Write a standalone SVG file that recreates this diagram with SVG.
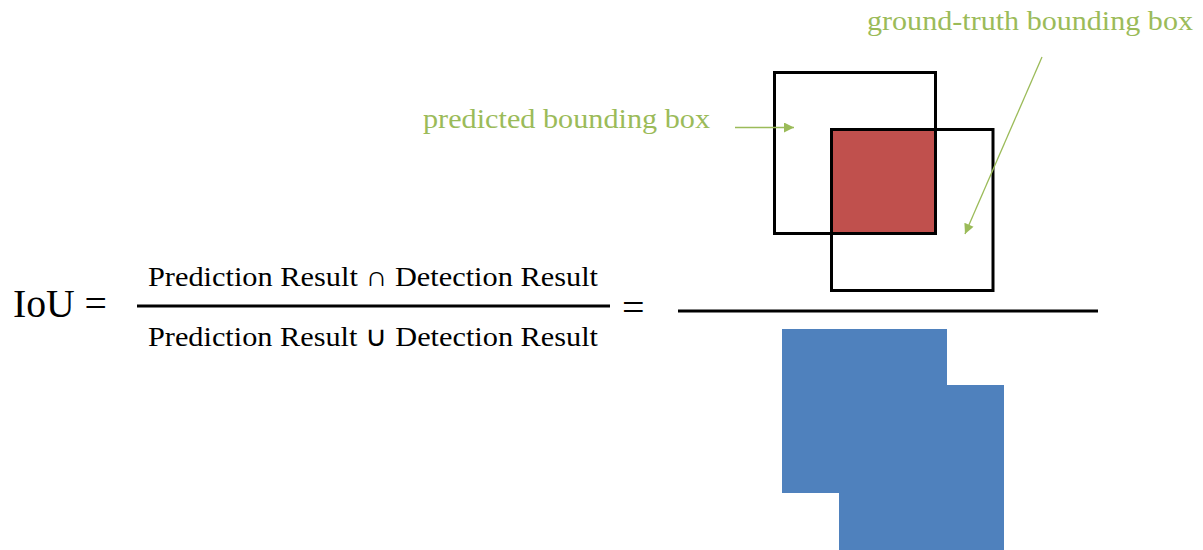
<svg xmlns="http://www.w3.org/2000/svg" width="1203" height="550" viewBox="0 0 1203 550">
<style>
.t{font-family:"Liberation Serif","Times New Roman",serif;fill:#000}
.g{font-family:"Liberation Serif","Times New Roman",serif;fill:#9BBB59}
.box{fill:none;stroke:#000;stroke-width:3}
.rule{stroke:#000;stroke-width:3}
.arr{stroke:#9BBB59;stroke-width:1.3;fill:none;marker-end:url(#ah)}
</style>
<defs>
<marker id="ah" viewBox="0 0 10 10" refX="10" refY="5" markerUnits="userSpaceOnUse" markerWidth="12" markerHeight="10" orient="auto">
<path d="M0,0 L10,5 L0,10 Z" fill="#9BBB59"/>
</marker>
</defs>
<rect width="1203" height="550" fill="#fff"/>
<g id="formula">
<text class="t" x="13" y="317" font-size="40" textLength="94" lengthAdjust="spacingAndGlyphs">IoU =</text>
<text class="t" x="148" y="286" font-size="28" textLength="450" lengthAdjust="spacingAndGlyphs">Prediction Result ∩ Detection Result</text>
<line class="rule" x1="137" y1="306" x2="610" y2="306"/>
<text class="t" x="148" y="346" font-size="28" textLength="450" lengthAdjust="spacingAndGlyphs">Prediction Result ∪ Detection Result</text>
<text class="t" x="622" y="321" font-size="40">=</text>
<line class="rule" x1="678" y1="311" x2="1098" y2="311"/>
</g>
<g id="intersection">
<rect x="831" y="129" width="105" height="105" fill="#C0504D"/>
</g>
<g id="predicted-box">
<rect class="box" x="774.5" y="72.5" width="161" height="161"/>
</g>
<g id="ground-truth-box">
<rect class="box" x="831.5" y="129.5" width="161.5" height="161"/>
</g>
<g id="union">
<polygon points="782,329 947,329 947,385 1004,385 1004,550 839,550 839,493 782,493" fill="#4F81BD"/>
</g>
<g id="label-predicted">
<text class="g" x="423" y="128" font-size="27" textLength="287" lengthAdjust="spacingAndGlyphs">predicted bounding box</text>
</g>
<g id="label-ground-truth">
<text class="g" x="867" y="30" font-size="27" textLength="326" lengthAdjust="spacingAndGlyphs">ground-truth bounding box</text>
</g>
<g id="connectors">
<line class="arr" x1="735" y1="127.5" x2="794" y2="127.5"/>
<line class="arr" x1="1042" y1="57" x2="965" y2="234"/>
</g>
</svg>
